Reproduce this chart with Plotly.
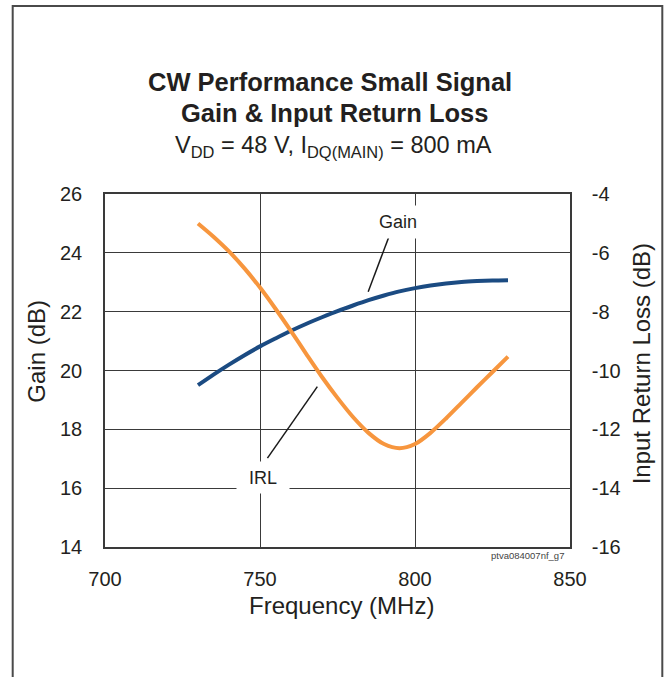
import plotly.graph_objects as go

# ---- data ----
freq_mhz = [730, 735, 740, 745, 750, 755, 760, 765, 770, 775, 780,
            785, 790, 795, 800, 805, 810, 815, 820, 825, 830]
gain_db = [19.50, 19.86, 20.20, 20.52, 20.82, 21.09, 21.35, 21.59, 21.81, 22.02, 22.21,
           22.39, 22.55, 22.69, 22.80, 22.89, 22.96, 23.01, 23.04, 23.06, 23.07]
irl_db = [-5.00, -5.45, -5.95, -6.53, -7.18, -7.90, -8.66, -9.45, -10.22, -10.93, -11.58,
          -12.12, -12.50, -12.64, -12.50, -12.12, -11.63, -11.10, -10.57, -10.05, -9.53]

x_ticks = [700, 750, 800, 850]
y_ticks = [14, 16, 18, 20, 22, 24, 26]
y2_ticks = [-16, -14, -12, -10, -8, -6, -4]
y2_ticktext = ["-16", "-14", "-12", "-10", "-8", "-6", "-4"]

# callout labels (data coords on gain axis)
gain_label = (794.4, 25.06)
gain_leader = [(792.2, 24.72), (784.9, 22.68)]
irl_label = (751.0, 16.35)
irl_leader = [(752.4, 17.02), (768.5, 19.45)]

# ---- layout geometry ----
W, H = 666, 677
L, R, T, B = 104.5, 570.5, 194, 547
FONT = "Liberation Sans, Arial, sans-serif"
TXT = "#231f20"
GRID = "#3a3a3a"


def px(xp):
    return (xp - L) / (R - L)


def py(yp):
    return (B - yp) / (B - T)


fig = go.Figure()
fig.add_trace(go.Scatter(x=freq_mhz, y=gain_db, mode="lines", name="Gain",
                         line=dict(color="#1b4b82", width=4, shape="spline", smoothing=0.8),
                         yaxis="y"))
fig.add_trace(go.Scatter(x=freq_mhz, y=irl_db, mode="lines", name="IRL",
                         line=dict(color="#f7963e", width=4, shape="spline", smoothing=0.8),
                         yaxis="y2"))

axis_common = dict(showline=True, linecolor=GRID, linewidth=1.5,
                   showgrid=True, gridcolor=GRID, gridwidth=1.2,
                   zeroline=False, ticks="",
                   tickfont=dict(family=FONT, size=20, color=TXT))

fig.update_layout(
    width=W, height=H,
    margin=dict(l=L, r=W - R, t=T, b=H - B, pad=0),
    paper_bgcolor="white", plot_bgcolor="white",
    showlegend=False,
    xaxis=dict(range=[700, 850], tickvals=x_ticks, mirror=True,
               ticklabelstandoff=13, **axis_common),
    yaxis=dict(range=[14, 26], tickvals=y_ticks, mirror=True,
               ticklabelstandoff=17, **axis_common),
    yaxis2=dict(range=[-16, -4], tickvals=y2_ticks, ticktext=y2_ticktext,
                overlaying="y", side="right",
                showline=True, linecolor=GRID, linewidth=1.5, showgrid=False,
                zeroline=False, ticks="", ticklabelstandoff=16,
                tickfont=dict(family=FONT, size=20, color=TXT)),
)

ann = []
# titles
ann.append(dict(text="<b>CW Performance Small Signal</b>", x=px(330), y=py(82),
                font=dict(family=FONT, size=25.5, color=TXT)))
ann.append(dict(text="<b>Gain &amp; Input Return Loss</b>", x=px(334), y=py(113),
                font=dict(family=FONT, size=25.5, color=TXT)))
ann.append(dict(text="V<sub>DD</sub> = 48 V, I<sub>DQ(MAIN)</sub> = 800 mA",
                x=px(333), y=py(146), font=dict(family=FONT, size=23.5, color=TXT)))
# axis titles
ann.append(dict(text="Frequency (MHz)", x=px(342), y=py(605),
                font=dict(family=FONT, size=24, color=TXT)))
ann.append(dict(text="Gain (dB)", x=px(35), y=py(351), textangle=-90,
                font=dict(family=FONT, size=24, color=TXT)))
ann.append(dict(text="Input Return Loss (dB)", x=px(642), y=py(364), textangle=-90,
                font=dict(family=FONT, size=24, color=TXT)))
# code
ann.append(dict(text="ptva084007nf_g7", x=px(566), y=py(555), xanchor="right",
                font=dict(family=FONT, size=9.5, color="#444")))
for a in ann:
    a.update(xref="paper", yref="paper", showarrow=False)
    a.setdefault("xanchor", "center")
    a.setdefault("yanchor", "middle")

# callout labels with white boxes
ann.append(dict(text="Gain", x=gain_label[0], y=gain_label[1], xref="x", yref="y",
                showarrow=False, bgcolor="white", width=44, height=28, borderpad=2,
                font=dict(family=FONT, size=18, color=TXT)))
ann.append(dict(text="IRL", x=irl_label[0], y=irl_label[1], xref="x", yref="y",
                showarrow=False, bgcolor="white", width=48, height=27, borderpad=2,
                font=dict(family=FONT, size=18, color=TXT)))
fig.update_layout(annotations=ann)

shapes = []
for (p0, p1) in (gain_leader, irl_leader):
    shapes.append(dict(type="line", xref="x", yref="y", x0=p0[0], y0=p0[1],
                       x1=p1[0], y1=p1[1], line=dict(color="#1a1a1a", width=1.5)))
# outer frame
shapes.append(dict(type="rect", xref="paper", yref="paper",
                   x0=px(12), x1=px(663), y0=py(700), y1=py(6),
                   line=dict(color="#4a4a4a", width=2), fillcolor="rgba(0,0,0,0)",
                   layer="above"))
fig.update_layout(shapes=shapes)

fig.write_html("out.html", config={"displayModeBar": False},
               post_script="document.body.style.margin='0';document.body.style.overflow='hidden';")
